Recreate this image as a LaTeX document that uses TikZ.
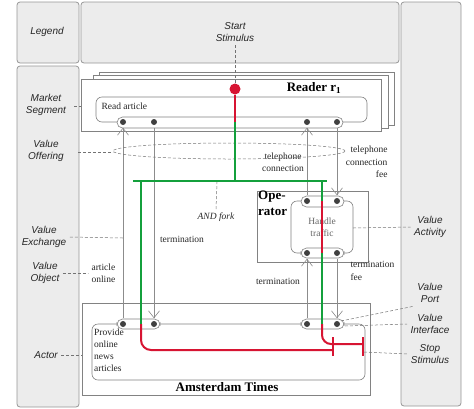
\documentclass[tikz,border=0pt]{standalone}
\usepackage{fontspec}
\setmainfont{Liberation Serif}
\setsansfont{Liberation Sans}
\usetikzlibrary{arrows.meta}

\definecolor{vgreen}{RGB}{20,160,60}
\definecolor{vred}{RGB}{215,20,50}
\definecolor{lanefill}{RGB}{236,236,236}
\definecolor{lanedraw}{RGB}{150,150,150}
\definecolor{boxdraw}{RGB}{130,130,130}

\tikzset{
  lane/.style={draw=lanedraw,fill=lanefill,rounded corners=3pt,line width=0.8pt},
  legend/.style={font=\sffamily\itshape\fontsize{10}{12}\selectfont,align=center,text=black!85},
  hint/.style={draw=black!55,dash pattern=on 3pt off 2pt,line width=0.5pt},
  actor/.style={draw=boxdraw,fill=white,line width=0.6pt},
  activity/.style={draw=boxdraw,rounded corners=6pt,line width=0.6pt},
  iface/.style={draw=boxdraw,fill=white,rounded corners=5.5pt,line width=0.6pt},
  port/.style={circle,fill=black!75,inner sep=0pt,minimum size=6pt},
  lbl/.style={font=\fontsize{9.5}{12.5}\selectfont,text=black!85},
  bigname/.style={font=\bfseries\fontsize{13}{15.5}\selectfont},
  exch/.style={draw=black!45,line width=0.6pt,shorten >=2.5pt,shorten <=2.5pt,
    -{Straight Barb[length=7pt,width=11pt,line width=0.6pt]}},
  dep/.style={line width=2pt},
}

\begin{document}
\begin{tikzpicture}[x=1pt,y=-1pt]
\useasboundingbox (0,0) rectangle (474,408);

% legend lanes
\draw[lane] (17,2) rectangle (79,63);
\draw[lane] (17,66) rectangle (79,407);
\draw[lane] (81,2) rectangle (399,63);
\draw[lane] (401,2) rectangle (461,406);

\node[legend] (lgd) at (47,32) {Legend};
\node[legend] (lstart) at (235,32) {Start\\Stimulus};
\node[legend] (lms) at (46,105) {Market\\Segment};
\node[legend] (lvo) at (46,151) {Value\\Offering};
\node[legend] (lvx) at (44,237) {Value\\Exchange};
\node[legend] (lobj) at (45,273) {Value\\Object};
\node[legend] (lact) at (46,355) {Actor};
\node[legend] (lvac) at (430,227) {Value\\Activity};
\node[legend] (lport) at (430,293) {Value\\Port};
\node[legend] (lvif) at (430,324) {Value\\Interface};
\node[legend] (lstop) at (430,354) {Stop\\Stimulus};

% market segment: reader
\foreach \dx/\dy/\rx/\ry in {99/72/394/125, 93/75/388/128, 81/79/381/131}
  \draw[actor] (\dx,\dy) rectangle (\rx,\ry);
\node[bigname] (reader) at (314,88) {Reader r\textsubscript{1}};
\draw[activity] (96,97) rectangle (367,122);
\node[lbl,anchor=west] (read) at (98,106) {Read article};

% actors
\draw[actor] (257,191) rectangle (368,262);
\node[bigname,anchor=north west,align=left,inner sep=1pt] (oper) at (257,190) {Ope-\\rator};
\draw[activity] (291,201) rectangle (353,253);
\node[lbl,text=black!60,align=center] (handle) at (322,227) {Handle\\traffic};

\draw[actor] (82,303) rectangle (370,395);
\node[bigname] (amst) at (227,387) {Amsterdam Times};
\draw[activity] (92,324) rectangle (365,380);
\node[lbl,anchor=north west,align=left,inner sep=1pt,font=\fontsize{9.5}{12}\selectfont]
  (provide) at (93,328) {Provide\\online\\news\\articles};

% interfaces and ports
\draw[iface] (117,117) rectangle (343,128);
\draw[iface] (301,196) rectangle (344,207);
\draw[iface] (301,248) rectangle (344,258);
\draw[iface] (117,319) rectangle (160,329);
\draw[iface] (301,319) rectangle (344,329);

\node[port] (r1) at (123,122) {};
\node[port] (r2) at (154,122) {};
\node[port] (r3) at (307,122) {};
\node[port] (r4) at (337,122) {};
\node[port] (o1) at (307,201) {};
\node[port] (o2) at (337,201) {};
\node[port] (o3) at (307,253) {};
\node[port] (o4) at (337,253) {};
\node[port] (a1) at (123,324) {};
\node[port] (a2) at (154,324) {};
\node[port] (a3) at (307,324) {};
\node[port] (a4) at (337,324) {};

% value exchanges
\draw[exch] (a1) -- (r1);
\draw[exch] (r2) -- (a2);
\draw[exch] (o1) -- (r3);
\draw[exch] (r4) -- (o2);
\draw[exch] (a3) -- (o3);
\draw[exch] (o4) -- (a4);

\node[lbl,anchor=west,align=left] (artonl) at (88,273) {article\\online};
\node[lbl] (term1) at (182,239) {termination};
\node[lbl] (term2) at (278,281) {termination};
\node[lbl,anchor=west,align=left] (termfee) at (347,271) {termination\\fee};
\node[lbl,align=center] (telcon) at (283,162) {telephone\\connection};
\node[lbl,anchor=east,align=right] (telfee) at (391,162) {telephone\\connection\\fee};

% value offering
\draw[hint] (229,151) ellipse (116 and 8);

% dependency path
\node[circle,fill=vred,minimum size=11pt,inner sep=0pt] (start) at (235,89) {};
\coordinate (fork) at (235,181);
\coordinate (forkl) at (133,181);
\coordinate (forkr) at (327,181);
\coordinate (stop1) at (333,350);
\coordinate (stop2) at (363,344);

\draw[dep,vred] (start) -- (235,122);
\draw[dep,vgreen] (235,122) -- (fork);
\draw[dep,vgreen] (forkl) -- (forkr);
\draw[dep,vgreen] (141,181) -- (141,324);
\draw[dep,vred,rounded corners=10pt] (141,324) -- (141,350) -- (stop1);
\draw[dep,vgreen] (322,181) -- (322,201);
\draw[dep,vred] (322,201) -- (322,253);
\draw[dep,vgreen] (322,253) -- (322,324);
\draw[dep,vred,rounded corners=9pt] (322,324) -- (322,344) -- (stop2);
\draw[dep,vred] (333,337) -- (333,356);
\draw[dep,vred] (363,337) -- (363,356);

\node[lbl,font=\itshape\fontsize{9.5}{12}\selectfont] (andf) at (216,217) {AND fork};

% legend hints
\draw[hint] (lstart.south) -- (start);
\draw[hint] (74,106) -- (81,106);
\draw[hint] (78,152) -- (113,152);
\draw[hint] (lvx.east) -- (123,238);
\draw[hint] (lobj.east) -- (88,273);
\draw[hint] (lact.east) -- (82,355);
\draw[hint] (andf.north) -- (217,182);
\draw[hint] (353,228) -- (lvac.west);
\draw[hint] (341,321) -- (lport.south west);
\draw[hint] (345,326) -- (lvif.west);
\draw[hint] (364,352) -- (lstop.west);
\end{tikzpicture}
\end{document}
